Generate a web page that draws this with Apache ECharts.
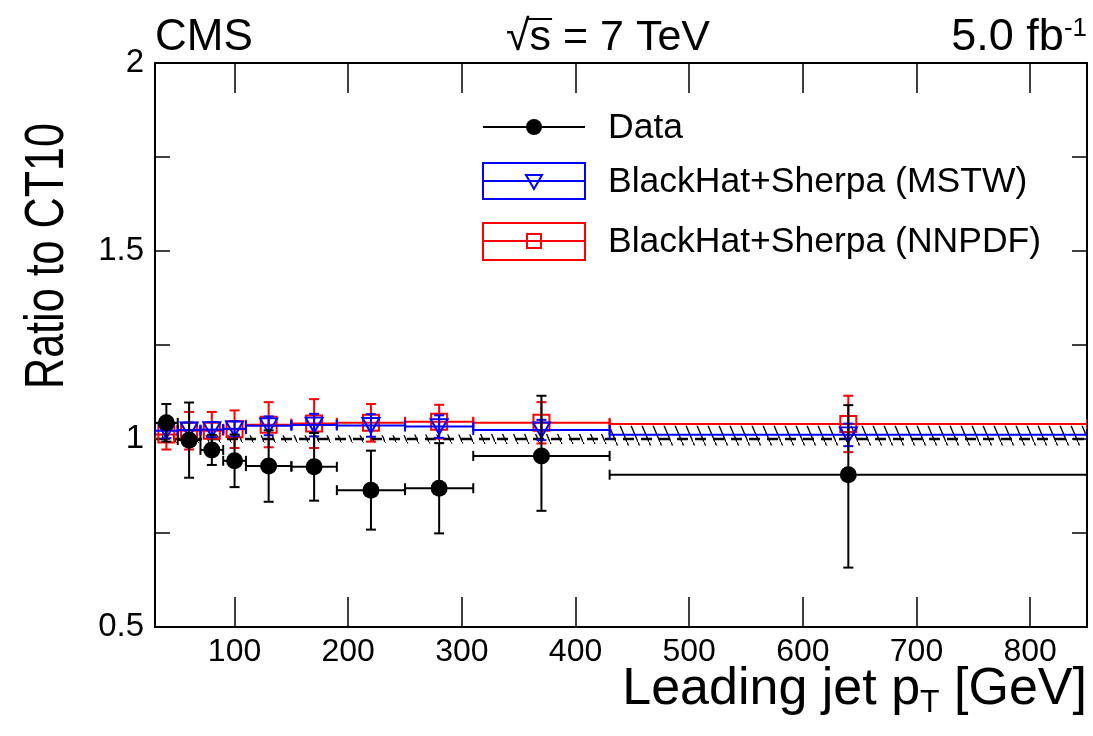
<!DOCTYPE html>
<html>
<head>
<meta charset="utf-8">
<script src="https://cdn.jsdelivr.net/npm/echarts@6/dist/echarts.min.js"></script>
<style>
  html, body { margin: 0; padding: 0; background: #fff; }
  #main { width: 1093px; height: 736px; }
</style>
</head>
<body>
<div id="main"></div>
<script>
// bins of leading jet pT (GeV)
const binLo = [30, 50, 70, 90, 110, 150, 190, 250, 310, 430];
const binHi = [50, 70, 90, 110, 150, 190, 250, 310, 430, 850];
const binCenter = [40, 60, 80, 100, 130, 170, 220, 280, 370, 640];

// ratio to CT10
const dataRatio = [1.043, 0.997, 0.971, 0.942, 0.928, 0.926, 0.864, 0.869, 0.955, 0.905];
const dataErrUp = [0.05, 0.10, 0.04, 0.07, 0.095, 0.09, 0.105, 0.12, 0.16, 0.185];
const dataErrDown = [0.05, 0.10, 0.04, 0.07, 0.095, 0.09, 0.105, 0.12, 0.146, 0.247];

const mstwRatio = [1.022, 1.024, 1.025, 1.027, 1.035, 1.037, 1.036, 1.033, 1.024, 1.011];
const mstwErr = [0.02, 0.02, 0.02, 0.02, 0.025, 0.03, 0.03, 0.03, 0.027, 0.03];

const nnpdfRatio = [1.012, 1.022, 1.022, 1.026, 1.038, 1.041, 1.043, 1.046, 1.043, 1.040];
const nnpdfErr = [0.04, 0.05, 0.05, 0.05, 0.06, 0.065, 0.05, 0.045, 0.055, 0.075];

// CT10 uncertainty band (hatched)
const ct10Lo = [0.99, 0.99, 0.99, 0.99, 0.99, 0.99, 0.99, 0.988, 0.987, 0.983];
const ct10Hi = [1.01, 1.01, 1.01, 1.01, 1.01, 1.01, 1.01, 1.012, 1.013, 1.035];
const ct10Line = 1;

const xTicks = [100, 200, 300, 400, 500, 600, 700, 800];

const FONT = "'Liberation Sans', Arial, Helvetica, sans-serif";

// build [x, y, xlo, xhi, ylo, yhi]
function rows(vals, up, down) {
  return binCenter.map(function (x, i) {
    return [x, vals[i], binLo[i], binHi[i], vals[i] - down[i], vals[i] + up[i]];
  });
}

function errBars(color) {
  return function (params, api) {
    var y = api.value(1);
    var x = api.value(0);
    var pl = api.coord([api.value(2), y]);
    var ph = api.coord([api.value(3), y]);
    var pd = api.coord([x, api.value(4)]);
    var pu = api.coord([x, api.value(5)]);
    var st = { stroke: color, lineWidth: 2 };
    var c = 5;
    return {
      type: 'group',
      children: [
        { type: 'line', shape: { x1: pl[0], y1: pl[1], x2: ph[0], y2: ph[1] }, style: st },
        { type: 'line', shape: { x1: pl[0], y1: pl[1] - c, x2: pl[0], y2: pl[1] + c }, style: st },
        { type: 'line', shape: { x1: ph[0], y1: ph[1] - c, x2: ph[0], y2: ph[1] + c }, style: st },
        { type: 'line', shape: { x1: pd[0], y1: pd[1], x2: pu[0], y2: pu[1] }, style: st },
        { type: 'line', shape: { x1: pd[0] - c, y1: pd[1], x2: pd[0] + c, y2: pd[1] }, style: st },
        { type: 'line', shape: { x1: pu[0] - c, y1: pu[1], x2: pu[0] + c, y2: pu[1] }, style: st }
      ]
    };
  };
}

// hatch pattern "\\\"
var hatch = document.createElement('canvas');
hatch.width = 11;
hatch.height = 26;
(function () {
  var ctx = hatch.getContext('2d');
  ctx.strokeStyle = '#000';
  ctx.lineWidth = 1.3;
  ctx.beginPath();
  ctx.moveTo(-5.5, -13); ctx.lineTo(16.5, 39);
  ctx.stroke();
})();

// where the bar of the square root goes
var mctx = document.createElement('canvas').getContext('2d');
mctx.font = '43px Liberation Sans';
var sqrtFull = mctx.measureText('\u221as = 7 TeV').width;
var sqrtW = mctx.measureText('\u221a').width;
var sqrtS = mctx.measureText('\u221as').width;
var sqrtLeft = 608 - sqrtFull / 2;

var chart = echarts.init(document.getElementById('main'), null, { renderer: 'canvas' });

var axisLine = { show: true, lineStyle: { color: '#000', width: 2 } };

var option = {
  animation: false,
  backgroundColor: '#fff',
  grid: { left: 155, right: 6, top: 63, bottom: 109 },
  xAxis: [{
    type: 'value', min: 30, max: 850,
    axisLine: axisLine,
    axisTick: { inside: true, length: 30, customValues: xTicks, lineStyle: { color: '#000', width: 1.5 } },
    axisLabel: { customValues: xTicks, color: '#000', fontSize: 32, fontFamily: FONT, margin: 9 },
    splitLine: { show: false }
  }, {
    type: 'value', min: 30, max: 850, position: 'top',
    axisLine: axisLine,
    axisTick: { inside: true, length: 30, customValues: xTicks, lineStyle: { color: '#000', width: 1.5 } },
    axisLabel: { show: false },
    splitLine: { show: false }
  }],
  yAxis: [{
    type: 'value', min: 0.5, max: 2, interval: 0.25,
    axisLine: axisLine,
    axisTick: { inside: true, length: 15, lineStyle: { color: '#000', width: 1.5 } },
    axisLabel: {
      color: '#000', fontSize: 33, fontFamily: FONT, margin: 11,
      formatter: function (v) { return (Math.round(v * 4) % 2 === 0) ? String(v) : ''; }
    },
    splitLine: { show: false }
  }, {
    type: 'value', min: 0.5, max: 2, interval: 0.25, position: 'right',
    axisLine: axisLine,
    axisTick: { inside: true, length: 15, lineStyle: { color: '#000', width: 1.5 } },
    axisLabel: { show: false },
    splitLine: { show: false }
  }],
  series: [
    {
      // CT10 band
      type: 'custom', clip: true,
      data: binLo.map(function (lo, i) { return [lo, binHi[i], ct10Lo[i], ct10Hi[i]]; }),
      renderItem: function (params, api) {
        var a = api.coord([api.value(0), api.value(3)]);
        var b = api.coord([api.value(1), api.value(2)]);
        return {
          type: 'rect',
          shape: { x: a[0], y: a[1], width: b[0] - a[0], height: b[1] - a[1] },
          style: { fill: { image: hatch, repeat: 'repeat' }, stroke: null }
        };
      },
      z: 1
    },
    {
      type: 'line',
      data: [[binLo[0], ct10Line], [binHi[binHi.length - 1], ct10Line]],
      symbol: 'none',
      lineStyle: { color: '#000', width: 2.5, type: [11, 7] },
      z: 2
    },
    {
      type: 'custom', clip: true,
      data: rows(nnpdfRatio, nnpdfErr, nnpdfErr),
      renderItem: errBars('#ff0000'),
      z: 3
    },
    {
      type: 'scatter',
      data: binCenter.map(function (x, i) { return [x, nnpdfRatio[i]]; }),
      symbol: 'rect', symbolSize: 16,
      itemStyle: { color: 'rgba(0,0,0,0)', borderColor: '#ff0000', borderWidth: 2, opacity: 1 },
      z: 4
    },
    {
      type: 'custom', clip: true,
      data: rows(mstwRatio, mstwErr, mstwErr),
      renderItem: errBars('#0000ff'),
      z: 5
    },
    {
      type: 'scatter',
      data: binCenter.map(function (x, i) { return [x, mstwRatio[i]]; }),
      symbol: 'triangle', symbolRotate: 180, symbolSize: [17, 15],
      itemStyle: { color: 'rgba(0,0,0,0)', borderColor: '#0000ff', borderWidth: 2, opacity: 1 },
      z: 6
    },
    {
      type: 'custom', clip: true,
      data: rows(dataRatio, dataErrUp, dataErrDown),
      renderItem: errBars('#000'),
      z: 7
    },
    {
      type: 'scatter',
      data: binCenter.map(function (x, i) { return [x, dataRatio[i]]; }),
      symbol: 'circle', symbolSize: 17,
      itemStyle: { color: '#000', opacity: 1 },
      z: 8
    }
  ],
  graphic: [
    { type: 'text', x: 155, y: 38, style: { text: 'CMS', font: '44px ' + FONT, fill: '#000', textVerticalAlign: 'middle' } },
    { type: 'text', x: 608, y: 38, style: { text: '\u221as = 7 TeV', font: '43px ' + FONT, fill: '#000', textAlign: 'center', textVerticalAlign: 'middle' } },
    { type: 'line', shape: { x1: sqrtLeft + sqrtW - 2, y1: 19, x2: sqrtLeft + sqrtS + 1, y2: 19 }, style: { stroke: '#000', lineWidth: 2 } },
    {
      type: 'text', x: 1087, y: 38,
      style: {
        text: '{n|5.0 fb}{s|-1}', textAlign: 'right', textVerticalAlign: 'middle',
        rich: { n: { font: '45px ' + FONT, fill: '#000' }, s: { font: '26px ' + FONT, fill: '#000', verticalAlign: 'top', padding: [0, 0, 16, 0] } }
      }
    },
    { type: 'text', x: 48, y: 256, rotation: Math.PI / 2, scaleX: 0.77, style: { text: 'Ratio to CT10', font: '56px ' + FONT, fill: '#000', textAlign: 'center', textVerticalAlign: 'middle' } },
    {
      type: 'text', x: 1087, y: 690,
      style: {
        text: '{n|Leading jet p}{s|T}{n| [GeV]}', textAlign: 'right', textVerticalAlign: 'middle',
        rich: { n: { font: '52px ' + FONT, fill: '#000' }, s: { font: '32px ' + FONT, fill: '#000', padding: [26, 0, 0, 0] } }
      }
    },
    // legend
    { type: 'line', shape: { x1: 483, y1: 127, x2: 585, y2: 127 }, style: { stroke: '#000', lineWidth: 2 } },
    { type: 'circle', shape: { cx: 534, cy: 127, r: 8 }, style: { fill: '#000' } },
    { type: 'text', x: 608, y: 128, style: { text: 'Data', font: '35.5px ' + FONT, fill: '#000', textVerticalAlign: 'middle' } },

    { type: 'rect', shape: { x: 483, y: 163, width: 102, height: 36 }, style: { fill: 'none', stroke: '#0000ff', lineWidth: 2 } },
    { type: 'line', shape: { x1: 483, y1: 181, x2: 585, y2: 181 }, style: { stroke: '#0000ff', lineWidth: 2 } },
    { type: 'polygon', shape: { points: [[526, 175], [542, 175], [534, 189]] }, style: { fill: 'none', stroke: '#0000ff', lineWidth: 2 } },
    { type: 'text', x: 608, y: 182, style: { text: 'BlackHat+Sherpa (MSTW)', font: '35.5px ' + FONT, fill: '#000', textVerticalAlign: 'middle' } },

    { type: 'rect', shape: { x: 483, y: 223, width: 102, height: 37 }, style: { fill: 'none', stroke: '#ff0000', lineWidth: 2 } },
    { type: 'line', shape: { x1: 483, y1: 241, x2: 585, y2: 241 }, style: { stroke: '#ff0000', lineWidth: 2 } },
    { type: 'rect', shape: { x: 527, y: 234, width: 14, height: 14 }, style: { fill: 'none', stroke: '#ff0000', lineWidth: 2 } },
    { type: 'text', x: 608, y: 242, style: { text: 'BlackHat+Sherpa (NNPDF)', font: '35.5px ' + FONT, fill: '#000', textVerticalAlign: 'middle' } }
  ]
};

chart.setOption(option);
</script>
</body>
</html>
